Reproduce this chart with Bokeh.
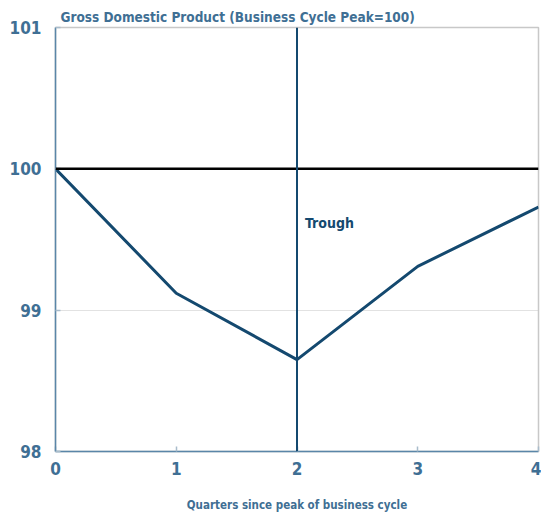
from bokeh.plotting import figure
from bokeh.models import Span, Label, FixedTicker, Range1d
from bokeh.embed import file_html
from bokeh.resources import INLINE

quarters = [0, 1, 2, 3, 4]
gdp = [100.0, 99.12, 98.65, 99.31, 99.73]
trough_q = 2
y_ticks = [98, 99, 100, 101]
x_ticks = [0, 1, 2, 3, 4]
title_text = "Gross Domestic Product (Business Cycle Peak=100)"
x_label = "Quarters since peak of business cycle"

FONT = "DejaVu Sans Condensed"
LBL = "#3f6f94"
LINE = "#14496f"

p = figure(width=541, height=517, output_backend="svg", toolbar_location=None,
           x_range=Range1d(0, 4), y_range=Range1d(98, 101),
           min_border_left=55, min_border_right=3, min_border_top=27, min_border_bottom=66)
p.background_fill_color = "white"
p.outline_line_color = "#c8c8c8"
p.outline_line_width = 1.5

p.title.text = title_text
p.title.text_font = FONT
p.title.text_font_style = "bold"
p.title.text_font_size = "13.5px"
p.title.text_color = LBL
p.title.offset = 5
p.title.standoff = 5

p.xgrid.visible = False
p.ygrid.ticker = FixedTicker(ticks=y_ticks)
p.ygrid.grid_line_color = "#c4c4c4"
p.ygrid.grid_line_dash = "1 1"
p.ygrid.grid_line_width = 1

for ax in (p.xaxis[0], p.yaxis[0]):
    ax.axis_line_color = "#5a86a8"
    ax.axis_line_width = 1.5
    ax.major_tick_in = 5
    ax.major_tick_out = 0
    ax.major_tick_line_color = "#a9bccb"
    ax.major_tick_line_width = 1.5
    ax.minor_tick_line_color = None
    ax.major_label_text_font = FONT
    ax.major_label_text_font_style = "bold"
    ax.major_label_text_color = LBL
    ax.major_label_text_font_size = "17px"

p.xaxis.ticker = FixedTicker(ticks=x_ticks)
p.yaxis.ticker = FixedTicker(ticks=y_ticks)
p.yaxis.major_label_standoff = 14
p.xaxis.major_label_standoff = 10
p.xaxis.axis_label = x_label
p.xaxis.axis_label_text_font = FONT
p.xaxis.axis_label_text_font_style = "bold"
p.xaxis.axis_label_text_font_size = "11.5px"
p.xaxis.axis_label_text_color = LBL
p.xaxis.axis_label_standoff = 20

p.add_layout(Span(location=100, dimension="width", line_color="black", line_width=2.5))
p.add_layout(Span(location=trough_q, dimension="height", line_color=LINE, line_width=2))

p.line(quarters, gdp, line_color=LINE, line_width=3)

p.add_layout(Label(x=trough_q, y=99.62, x_offset=8, text="Trough", text_font=FONT,
                   text_font_style="bold", text_font_size="14px", text_color=LINE,
                   text_baseline="middle"))

open("out.html", "w").write(file_html(p, INLINE))
